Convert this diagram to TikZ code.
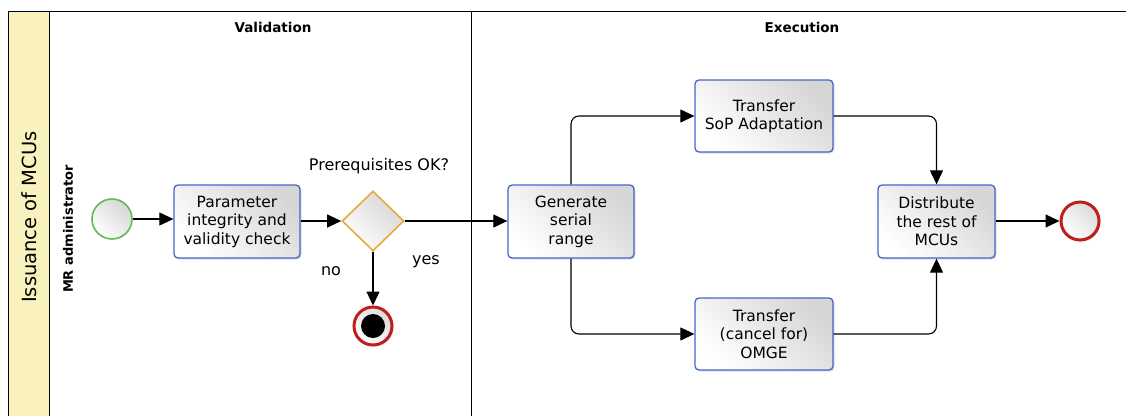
\documentclass[tikz,border=0pt]{standalone}
\usepackage{fontspec}
\setmainfont{DejaVu Sans}
\usetikzlibrary{arrows.meta,shapes.geometric,shadows}
\definecolor{taskblue}{RGB}{70,100,200}
\definecolor{startgreen}{RGB}{90,190,80}
\definecolor{gwyorange}{RGB}{230,170,60}
\definecolor{endred}{RGB}{190,30,30}
\definecolor{poolyellow}{RGB}{250,242,190}
\tikzset{
  task/.style={draw=taskblue, line width=1.3pt, rounded corners=4pt, top color=white, bottom color=black!16, shading angle=135,
    drop shadow={opacity=0.25, shadow xshift=1.5pt, shadow yshift=-1.5pt},
    align=center, font=\fontsize{15.5}{18.5}\selectfont, inner sep=0pt},
  startev/.style={circle, draw=startgreen, line width=1.6pt, minimum size=40pt, inner sep=0pt, top color=white, bottom color=black!16, shading angle=135},
  endev/.style={circle, draw=endred, line width=3pt, minimum size=38pt, inner sep=0pt, top color=white, bottom color=black!14, shading angle=135,
    drop shadow={opacity=0.25, shadow xshift=1.5pt, shadow yshift=-1.5pt}},
  gateway/.style={diamond, draw=gwyorange, line width=1.6pt, minimum width=62pt, minimum height=60pt, inner sep=0pt, top color=white, bottom color=black!16, shading angle=135},
  flow/.style={draw=black, line width=1.1pt, rounded corners=8pt, -{Triangle[length=14pt,width=13pt]}},
  lbl/.style={font=\fontsize{16}{18}\selectfont},
  hdr/.style={font=\bfseries\fontsize{13.5}{16}\selectfont},
}
\begin{document}
\begin{tikzpicture}[x=1pt,y=-1pt]
\useasboundingbox (0,0) rectangle (1126,416);
% pool
\fill[poolyellow] (8,11) rectangle (49,416);
\draw[line width=1pt] (8,416) -- (8,11) -- (1126,11);
\draw[line width=1pt] (49,11) -- (49,416);
\draw[line width=0.8pt] (471,11) -- (471,416);
\node[rotate=90, font=\fontsize{19.5}{22}\selectfont] (pool) at (29,217) {Issuance of MCUs};
\node[rotate=90, font=\bfseries\fontsize{13}{16}\selectfont] (lane) at (68,229) {MR administrator};
\node[hdr] (ph1) at (273,27) {Validation};
\node[hdr] (ph2) at (802,27) {Execution};
% nodes
\node[startev] (start) at (112,219) {};
\node[task, minimum width=126pt, minimum height=73pt] (check) at (237,221.5) {Parameter\\integrity and\\validity check};
\node[gateway] (gw) at (373,221) {};
\node[lbl] (gwl) at (379,166) {Prerequisites OK?};
\node[endev, draw=endred] (fail) at (373,326) {};
\fill[black] (fail.center) circle (12pt);
\node[task, minimum width=126pt, minimum height=73pt] (gen) at (571,221.5) {Generate\\serial\\range};
\node[task, minimum width=138pt, minimum height=72pt] (sop) at (764,116) {Transfer\\SoP Adaptation};
\node[task, minimum width=138pt, minimum height=72pt] (omge) at (764,334) {Transfer\\(cancel for)\\OMGE};
\node[task, minimum width=117pt, minimum height=73pt] (dist) at (936.5,221.5) {Distribute\\the rest of\\MCUs};
\node[endev] (end) at (1080,221) {};
% flows
\draw[flow] (start) -- (check.west |- start);
\draw[flow] (check.east |- gw) -- (gw.west);
\draw[flow] (gw.south) -- (fail.north);
\node[lbl] (no) at (331,271) {no};
\draw[flow] (gw.east) -- (gen.west |- gw);
\node[lbl] (yes) at (426,262) {yes};
\draw[flow] (gen.north) |- (sop.west);
\draw[flow] (gen.south) |- (omge.west);
\draw[flow] (sop.east) -| (dist.north);
\draw[flow] (omge.east) -| (dist.south);
\draw[flow] (dist.east |- end) -- (end.west);
\end{tikzpicture}
\end{document}
